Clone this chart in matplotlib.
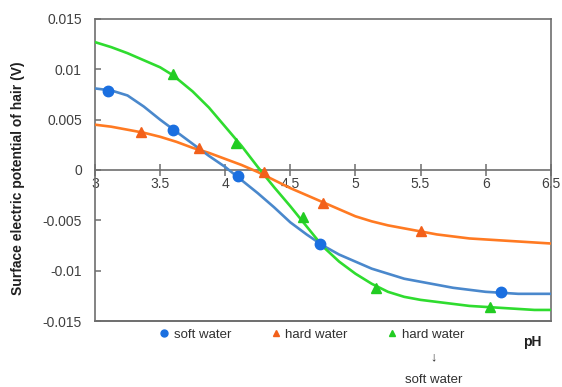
import numpy as np
import matplotlib.pyplot as plt
from matplotlib.lines import Line2D

plt.rcParams['font.family'] = ['Liberation Sans', 'DejaVu Sans']

# fitted curves
ph_curve = [3.0, 3.125, 3.25, 3.375, 3.5, 3.625, 3.75, 3.875, 4.0, 4.125, 4.25, 4.375,
            4.5, 4.625, 4.75, 4.875, 5.0, 5.125, 5.25, 5.375, 5.5, 5.625, 5.75, 5.875,
            6.0, 6.125, 6.25, 6.375, 6.5]
soft_curve = [0.0081, 0.0079, 0.0074, 0.0063, 0.0050, 0.0038, 0.0026, 0.0014, 0.0003,
              -0.0010, -0.0023, -0.0037, -0.0052, -0.0064, -0.0075, -0.0084, -0.0091,
              -0.0098, -0.0103, -0.0108, -0.0111, -0.0114, -0.0117, -0.0119, -0.0121,
              -0.0122, -0.0123, -0.0123, -0.0123]
hard_curve = [0.0045, 0.0043, 0.0040, 0.0037, 0.0033, 0.0028, 0.0022, 0.0017, 0.0011,
              0.0005, -0.0002, -0.0010, -0.0018, -0.0025, -0.0032, -0.0039, -0.0046,
              -0.0051, -0.0055, -0.0058, -0.0061, -0.0064, -0.0066, -0.0068, -0.0069,
              -0.0070, -0.0071, -0.0072, -0.0073]
ph_green = [3.0, 3.125, 3.25, 3.375, 3.5, 3.6, 3.75, 3.875, 4.0, 4.125, 4.25, 4.375,
            4.5, 4.625, 4.75, 4.875, 5.0, 5.125, 5.25, 5.375, 5.5, 5.625, 5.75, 5.875,
            6.0, 6.125, 6.25, 6.375, 6.5]
switch_curve = [0.0127, 0.0122, 0.0116, 0.0109, 0.0102, 0.0094, 0.0078, 0.0062, 0.0043,
                0.0024, 0.0003, -0.0017, -0.0036, -0.0056, -0.0076, -0.0091, -0.0103,
                -0.0113, -0.0121, -0.0126, -0.0129, -0.0131, -0.0133, -0.0135, -0.0136,
                -0.0137, -0.0138, -0.0139, -0.0139]

# measured points
ph_soft = [3.1, 3.6, 4.1, 4.73, 6.12]
soft_pts = [0.0078, 0.0040, -0.0006, -0.0074, -0.0121]
ph_hard = [3.35, 3.8, 4.3, 4.75, 5.5]
hard_pts = [0.0038, 0.0022, -0.0002, -0.0033, -0.0061]
ph_switch = [3.6, 4.08, 4.6, 5.16, 6.03]
switch_pts = [0.0095, 0.0027, -0.0047, -0.0117, -0.0136]

xticks = [3, 3.5, 4, 4.5, 5, 5.5, 6, 6.5]
xticklabels = ['3', '3.5', '4', '4.5', '5', '5.5', '6', '6.5']
yticks = [-0.015, -0.01, -0.005, 0, 0.005, 0.01, 0.015]
yticklabels = ['-0.015', '-0.01', '-0.005', '0', '0.005', '0.01', '0.015']

blue_line, blue_mk = '#4a88cc', '#1a6fe0'
orange_line, orange_mk = '#ff7a22', '#f2601a'
green_line, green_mk = '#2fdc2f', '#22cc22'

fig = plt.figure(figsize=(5.62, 3.87), dpi=100)
ax = fig.add_axes([0.169, 0.1705, 0.811, 0.7805])

ax.plot(ph_curve, hard_curve, color=orange_line, lw=1.9, zorder=3)
ax.plot(ph_curve, soft_curve, color=blue_line, lw=1.9, zorder=3)
ax.plot(ph_green, switch_curve, color=green_line, lw=1.9, zorder=3)
ax.plot(ph_hard, hard_pts, '^', color=orange_mk, ms=6.5, zorder=4)
ax.plot(ph_soft, soft_pts, 'o', color=blue_mk, ms=7.5, zorder=4)
ax.plot(ph_switch, switch_pts, '^', color=green_mk, ms=6.5, zorder=4)

ax.set_xlim(3, 6.5)
ax.set_ylim(-0.015, 0.015)

spine_c = '#6e6e6e'
for s in ax.spines.values():
    s.set_color(spine_c)
    s.set_linewidth(1.2)
ax.spines['bottom'].set_position(('data', 0))
ax.plot([0, 1], [0, 0], transform=ax.transAxes, color=spine_c, lw=1.4, clip_on=False)

ax.set_xticks(xticks)
ax.set_xticklabels(xticklabels)
ax.set_yticks(yticks)
ax.set_yticklabels(yticklabels)
ax.tick_params(axis='x', direction='inout', length=8, width=1.1, color=spine_c,
               labelsize=10, labelcolor='#404040', pad=1)
ax.tick_params(axis='y', direction='in', length=4, width=1.1, color=spine_c,
               labelsize=10, labelcolor='#404040', pad=9.5)

ax.set_ylabel('Surface electric potential of hair (V)', fontsize=10,
              fontweight='bold', color='#202020')
ax.yaxis.set_label_coords(-0.153, 0.474)

handles = [Line2D([], [], ls='', marker='o', color=blue_mk, ms=5),
           Line2D([], [], ls='', marker='^', color=orange_mk, ms=5),
           Line2D([], [], ls='', marker='^', color=green_mk, ms=5)]
leg = fig.legend(handles, ['soft water', 'hard water', 'hard water'], ncol=3,
                 loc='upper left', bbox_to_anchor=(0.262, 0.181), frameon=False,
                 fontsize=9.5, handlelength=0.8, handletextpad=0.3, columnspacing=3.0)
for t in leg.get_texts():
    t.set_color('#303030')
fig.text(0.771, 0.077, '↓', ha='center', va='center', fontsize=9, color='#303030')
fig.text(0.771, 0.017, 'soft water', ha='center', va='center', fontsize=9.5, color='#303030')
fig.text(0.947, 0.117, 'pH', ha='center', va='center', fontsize=10, fontweight='bold',
         color='#202020')

fig.savefig('out.png', dpi=100)
